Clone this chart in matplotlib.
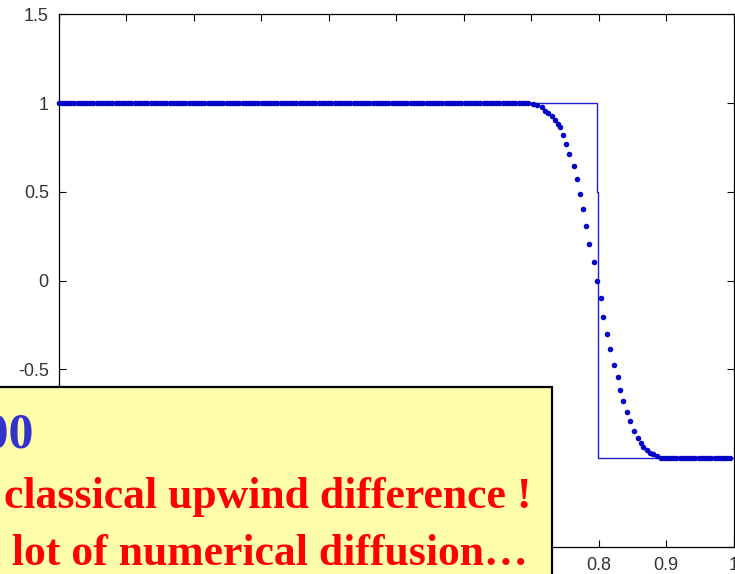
import numpy as np
import matplotlib
matplotlib.use("Agg")
import matplotlib.pyplot as plt
from matplotlib.patches import Rectangle

plt.rcParams["axes.unicode_minus"] = False

# Upwind solution: plateaus and the smeared front
upper_plateau_end = 0.700
lower_plateau_start = 0.892
grid_step = 0.0047
front_x = [0.7034, 0.7093, 0.7158, 0.7207, 0.7256, 0.7307, 0.7356, 0.7395,
           0.7430, 0.7470, 0.7520, 0.7563, 0.7637, 0.7680, 0.7726, 0.7774,
           0.7819, 0.7863, 0.7940, 0.7982, 0.8033, 0.8071, 0.8121, 0.8170,
           0.8234, 0.8284, 0.8319, 0.8367, 0.8418, 0.8467, 0.8526, 0.8581,
           0.8625, 0.8664, 0.8714, 0.8763, 0.8812, 0.8871]
front_y = [0.996, 0.990, 0.978, 0.958, 0.944, 0.925, 0.902, 0.885,
           0.865, 0.822, 0.770, 0.715, 0.644, 0.575, 0.489, 0.401,
           0.307, 0.208, 0.104, -0.002, -0.099, -0.204, -0.298, -0.386,
           -0.474, -0.542, -0.615, -0.676, -0.738, -0.790, -0.845, -0.885,
           -0.913, -0.935, -0.955, -0.970, -0.979, -0.988]
high_value = 1.0
low_value = -1.0

# Exact solution (step)
exact_x = [0.0, 0.7975, 0.7975, 0.799, 0.799, 1.0]
exact_y = [1.0, 1.0, 0.5, 0.5, -1.0, -1.0]

xticks = [0, 0.1, 0.2, 0.3, 0.4, 0.5, 0.6, 0.7, 0.8, 0.9, 1.0]
xticklabels = ["0", "0.1", "0.2", "0.3", "0.4", "0.5", "0.6", "0.7", "0.8", "0.9", "1"]
yticks = [-1.5, -1.0, -0.5, 0, 0.5, 1.0, 1.5]
yticklabels = ["-1.5", "-1", "-0.5", "0", "0.5", "1", "1.5"]

W, H = 735, 574
fig = plt.figure(figsize=(W / 100, H / 100), dpi=100)
fig.patch.set_facecolor("white")
ax = fig.add_axes([58.5 / W, 1 - 547 / H, 675 / W, (547 - 14.3) / H])

up_x = np.arange(0.0, upper_plateau_end + 1e-9, grid_step)
lo_x = np.arange(lower_plateau_start, 1.0 + 1e-9, grid_step)
xs = np.concatenate([up_x, front_x, lo_x])
ys = np.concatenate([np.full(len(up_x), high_value), front_y,
                     np.full(len(lo_x), low_value)])

ax.plot(exact_x, exact_y, color="#1f1fd0", lw=1.0, zorder=2)
ax.plot(xs, ys, linestyle="none", marker="o", ms=4.0, mew=0,
        color="#0505c8", zorder=3, clip_on=False)

ax.set_xlim(0, 1)
ax.set_ylim(-1.5, 1.5)
ax.set_xticks(xticks)
ax.set_xticklabels(xticklabels)
ax.set_yticks(yticks)
ax.set_yticklabels(yticklabels)
ax.tick_params(direction="in", length=5, width=0.8, top=True, right=True,
               labelsize=13, labelcolor="#333333", pad=7)
for lab in ax.get_xticklabels() + ax.get_yticklabels():
    lab.set_family("Liberation Sans")
for sp in ax.spines.values():
    sp.set_linewidth(0.9)
    sp.set_color("black")

# Annotation panel
box = Rectangle((-5 / W, -5 / H), (552 + 5) / W, (574 - 387 + 5) / H,
                transform=fig.transFigure, facecolor="#ffffaa",
                edgecolor="black", lw=1.6, zorder=5)
fig.add_artist(box)

serif = "Liberation Serif"
fig.text(33 / W, 1 - 448 / H, "N = 200", ha="right", va="baseline",
         fontsize=36, fontweight="bold", family=serif, color="#3333cc", zorder=6)
fig.text(4 / W, 1 - 508 / H, "classical upwind difference !", ha="left",
         va="baseline", fontsize=31.5, fontweight="bold", family=serif,
         color="#ff0000", zorder=6)
fig.text(528 / W, 1 - 565 / H, "a lot of numerical diffusion\u2026", ha="right",
         va="baseline", fontsize=31.5, fontweight="bold", family=serif,
         color="#ff0000", zorder=6)

fig.savefig("out.png", dpi=100)
